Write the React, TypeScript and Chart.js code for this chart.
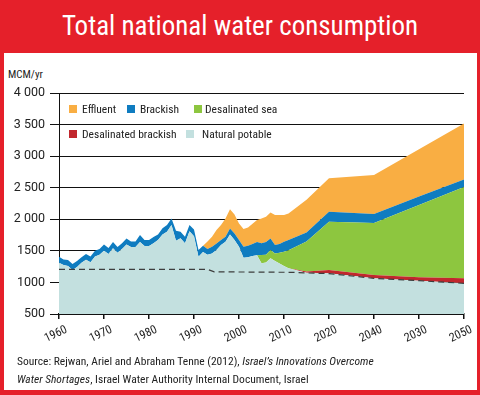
import React, { useEffect, useRef, useState } from "react";
import { Chart, registerables } from "chart.js";

Chart.register(...registerables);

// ---- data ----
const years = [
  1960, 1961, 1962, 1963, 1964, 1965, 1966, 1967, 1968, 1969,
  1970, 1971, 1972, 1973, 1974, 1975, 1976, 1977, 1978, 1979,
  1980, 1981, 1982, 1983, 1984, 1985, 1986, 1987, 1988, 1989,
  1990, 1991, 1992, 1993, 1994, 1995, 1996, 1997, 1998, 1999,
  2000, 2001, 2002, 2003, 2004, 2005, 2006, 2007, 2008, 2009,
  2010, 2011, 2015, 2020, 2030, 2040, 2050,
];

const naturalPotable = [
  1312, 1275, 1259, 1196, 1245, 1310, 1360, 1320, 1410, 1440,
  1500, 1450, 1540, 1470, 1530, 1600, 1560, 1560, 1640, 1576,
  1576, 1620, 1670, 1760, 1803, 1908, 1660, 1700, 1620, 1810,
  1730, 1407, 1480, 1440, 1460, 1513, 1592, 1644, 1760, 1670,
  1565, 1391, 1400, 1420, 1430, 1302, 1317, 1381, 1338, 1300,
  1260, 1225, 1155, 1144, 1065, 1027, 986,
];

const desalinatedBrackish = [
  0, 0, 0, 0, 0, 0, 0, 0, 0, 0,
  0, 0, 0, 0, 0, 0, 0, 0, 0, 0,
  0, 0, 0, 0, 0, 0, 0, 0, 0, 0,
  0, 0, 0, 0, 0, 0, 0, 0, 0, 0,
  0, 0, 0, 0, 0, 0, 0, 0, 0, 0,
  0, 0, 20, 52, 52, 54, 79,
];

const desalinatedSea = [
  0, 0, 0, 0, 0, 0, 0, 0, 0, 0,
  0, 0, 0, 0, 0, 0, 0, 0, 0, 0,
  0, 0, 0, 0, 0, 0, 0, 0, 0, 0,
  0, 0, 0, 0, 0, 0, 0, 0, 0, 0,
  0, 0, 0, 0, 0, 131, 123, 131, 122, 170,
  226, 285, 475, 764, 823, 1147, 1445,
];

const brackish = [
  95, 90, 95, 95, 95, 90, 89, 90, 90, 90,
  100, 95, 100, 90, 90, 97, 90, 90, 110, 95,
  95, 100, 90, 100, 105, 105, 160, 103, 103, 100,
  110, 106, 100, 90, 105, 105, 78, 79, 96, 106,
  105, 174, 180, 190, 210, 187, 200, 185, 132, 140,
  158, 160, 140, 159, 145, 134, 121,
];

const effluent = [
  0, 0, 0, 0, 0, 0, 0, 0, 0, 0,
  0, 0, 0, 0, 0, 0, 0, 0, 0, 0,
  0, 0, 0, 0, 0, 0, 0, 0, 0, 0,
  0, 0, 0, 120, 158, 211, 238, 289, 304, 301,
  264, 280, 290, 320, 350, 393, 400, 411, 474, 456,
  422, 420, 520, 531, 615, 746, 886,
];

const dashYears = [1960, 1993, 1994.5, 2012, 2015, 2020, 2030, 2040, 2050];
const dashValues = [1207, 1207, 1168, 1160, 1150, 1140, 1065, 1027, 986];

const xTickLabels = ["1960", "1970", "1980", "1990", "2000", "2010", "2020", "2040", "2030", "2050"];
const yTickLabels = ["500", "1000", "1500", "2 000", "2 500", "3 000", "3 500", "4 000"];

const seriesNames = ["Natural potable", "Desalinated brackish", "Desalinated sea", "Brackish", "Effluent"];
const seriesColors = ["#c3e0df", "#c1272d", "#8dc63f", "#0f7cc0", "#f9ae43"];

const FONT = "'Liberation Sans Narrow', 'Roboto Condensed', Roboto, sans-serif";
const TICK_FONT = "Roboto, 'Liberation Sans', sans-serif";
const RED = "#e5202a";

type XLabelPos = { x: number; y: number; text: string };

function App() {
  const canvasRef = useRef<HTMLCanvasElement | null>(null);
  const [xLabels, setXLabels] = useState<XLabelPos[]>([]);

  useEffect(() => {
    const canvas = canvasRef.current;
    if (!canvas) return;
    const series = [naturalPotable, desalinatedBrackish, desalinatedSea, brackish, effluent];
    const datasets: any[] = series.map((vals, i) => ({
      label: seriesNames[i],
      data: years.map((yr, k) => ({ x: yr, y: vals[k] })),
      backgroundColor: seriesColors[i],
      borderColor: seriesColors[i],
      borderWidth: 0,
      pointRadius: 0,
      fill: i === 0 ? "origin" : "-1",
      stack: "main",
      order: 1,
    }));
    datasets.push({
      label: "baseline",
      data: dashYears.map((yr, k) => ({ x: yr, y: dashValues[k] })),
      borderColor: "#3d3d3d",
      borderWidth: 1.2,
      borderDash: [6, 4],
      pointRadius: 0,
      fill: false,
      stack: "ref",
      order: -1,
    });

    const chart = new Chart(canvas, {
      type: "line",
      data: { datasets },
      options: {
        responsive: false,
        animation: false,
        events: [],
        layout: { padding: { left: 0, right: 16, top: 93, bottom: 41 } },
        plugins: {
          legend: { display: false },
          tooltip: { enabled: false },
        },
        elements: { line: { tension: 0 }, point: { radius: 0 } },
        scales: {
          x: {
            type: "linear",
            min: 1960,
            max: 2050,
            ticks: {
              stepSize: 10,
              autoSkip: false,
              display: false,
            },
            grid: { drawOnChartArea: false, drawTicks: true, tickLength: 5, color: "#111", lineWidth: 1.5 },
            border: { display: true, color: "#111", width: 2 },
            afterFit: (s: any) => {
              s.height = 40;
            },
          },
          y: {
            stacked: true,
            min: 500,
            max: 4000,
            ticks: {
              stepSize: 500,
              padding: 5,
              color: "#222",
              font: { family: TICK_FONT, size: 12.5 },
              callback: (v: any) => yTickLabels[Math.round((Number(v) - 500) / 500)],
            },
            grid: { color: "#111", lineWidth: 1, tickLength: 9 },
            border: { display: true, color: "#111", width: 1 },
            afterFit: (s: any) => {
              s.width = 59;
            },
          },
        },
      } as any,
    });

    const sx: any = chart.scales.x;
    setXLabels(
      sx.ticks.map((t: any, i: number) => ({
        x: sx.getPixelForValue(t.value),
        y: sx.top,
        text: xTickLabels[i] ?? "",
      }))
    );

    return () => chart.destroy();
  }, []);

  const legendRow1 = [
    { i: 4, sq: 69, tx: 82 },
    { i: 3, sq: 127, tx: 140 },
    { i: 2, sq: 194, tx: 205 },
  ];
  const legendRow2 = [
    { i: 1, sq: 69, tx: 82 },
    { i: 0, sq: 186, tx: 202 },
  ];

  const legendItem = (it: { i: number; sq: number; tx: number }, cy: number) => (
    <React.Fragment key={it.i}>
      <div
        style={{
          position: "absolute",
          left: it.sq,
          top: cy - 4,
          width: 8,
          height: 8,
          background: seriesColors[it.i],
        }}
      />
      <div
        style={{
          position: "absolute",
          left: it.tx,
          top: cy - 8,
          height: 16,
          lineHeight: "16px",
          fontSize: 11.5,
          color: "#222",
          whiteSpace: "nowrap",
        }}
      >
        {seriesNames[it.i]}
      </div>
    </React.Fragment>
  );

  return (
    <div
      style={{
        position: "absolute",
        left: 0,
        top: 0,
        width: 480,
        height: 395,
        background: "#fff",
        overflow: "hidden",
        fontFamily: FONT,
      }}
    >
      <div style={{ position: "absolute", left: 0, top: 0, width: 480, height: 53, background: RED }} />
      <div style={{ position: "absolute", left: 0, top: 53, width: 4, height: 342, background: RED }} />
      <div style={{ position: "absolute", left: 477, top: 53, width: 3, height: 342, background: RED }} />
      <div style={{ position: "absolute", left: 0, top: 390, width: 480, height: 5, background: RED }} />
      <div
        style={{
          position: "absolute",
          left: 0,
          top: 0,
          width: 480,
          height: 53,
          lineHeight: "53px",
          textAlign: "center",
          color: "#fff",
          fontSize: 27,
          whiteSpace: "nowrap",
        }}
      >
        Total national water consumption
      </div>
      <div style={{ position: "absolute", left: 8, top: 68, fontSize: 11, lineHeight: "14px", color: "#222" }}>
        MCM/yr
      </div>
      <canvas
        ref={canvasRef}
        width={480}
        height={395}
        style={{ position: "absolute", left: 0, top: 0, width: 480, height: 395 }}
      />
      {xLabels.map((l, i) => (
        <div key={i} style={{ position: "absolute", left: l.x + 5, top: l.y + 9, width: 0, height: 0 }}>
          <span
            style={{
              position: "absolute",
              right: 0,
              top: 0,
              fontSize: 12,
              lineHeight: "12px",
              color: "#222",
              whiteSpace: "nowrap",
              transformOrigin: "100% 0%",
              transform: "rotate(-25deg)",
            }}
          >
            {l.text}
          </span>
        </div>
      ))}
      {legendRow1.map((it) => legendItem(it, 109))}
      {legendRow2.map((it) => legendItem(it, 134))}
      <div
        style={{
          position: "absolute",
          left: 17,
          top: 352,
          fontSize: 11.5,
          lineHeight: "18px",
          color: "#222",
          whiteSpace: "nowrap",
        }}
      >
        Source: Rejwan, Ariel and Abraham Tenne (2012), <i>Israel’s Innovations Overcome</i>
        <br />
        <i>Water Shortages</i>, Israel Water Authority Internal Document, Israel
      </div>
    </div>
  );
}

export default App;
